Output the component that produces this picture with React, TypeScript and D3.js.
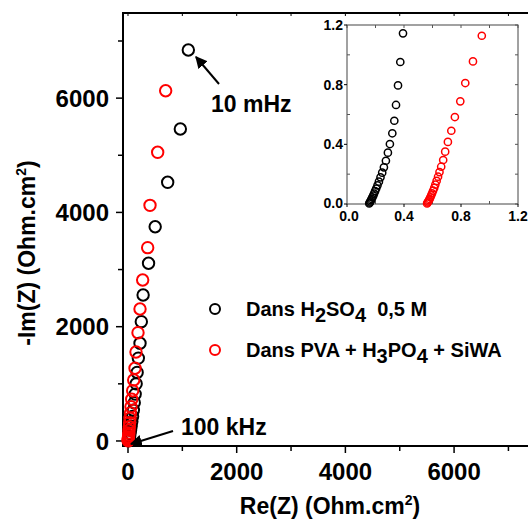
import React from "react";
import * as d3 from "d3";

// Main Nyquist data (Ohm.cm²)
const blackX = [1110, 963, 730, 500, 378, 278, 245, 221, 190, 168, 150, 132, 115, 99, 84, 70, 58, 47, 37, 29, 22, 16, 12];
const blackY = [6843, 5460, 4527, 3750, 3110, 2555, 2088, 1710, 1450, 1200, 1000, 820, 670, 540, 430, 340, 260, 190, 130, 80, 40, 15, 2];
const redX = [693, 546, 405, 362, 270, 221, 184, 147, 129, 105, 86, 68, 55, 45, 37, 30, 24, 19, 15, 12, 9, 7, 5, 4, 3];
const redY = [6130, 5052, 4124, 3383, 2817, 2310, 1895, 1557, 1272, 1067, 880, 730, 600, 490, 400, 320, 250, 190, 140, 100, 70, 45, 25, 10, 2];

// Inset data
const insetBlackX = [0.393, 0.374, 0.358, 0.344, 0.332, 0.318, 0.301, 0.287, 0.273, 0.259, 0.247, 0.235, 0.224, 0.214, 0.205, 0.197, 0.19, 0.184, 0.178, 0.173, 0.168, 0.164, 0.16, 0.156];
const insetBlackY = [1.144, 0.952, 0.795, 0.664, 0.558, 0.474, 0.402, 0.344, 0.29, 0.246, 0.21, 0.179, 0.15, 0.125, 0.104, 0.086, 0.07, 0.056, 0.044, 0.034, 0.025, 0.017, 0.01, 0.004];
const insetRedX = [0.946, 0.884, 0.83, 0.795, 0.757, 0.732, 0.708, 0.689, 0.675, 0.661, 0.649, 0.639, 0.629, 0.62, 0.612, 0.604, 0.597, 0.591, 0.585, 0.58, 0.575, 0.57, 0.566, 0.562];
const insetRedY = [1.128, 0.956, 0.811, 0.688, 0.583, 0.491, 0.416, 0.351, 0.295, 0.25, 0.214, 0.183, 0.155, 0.13, 0.108, 0.089, 0.072, 0.058, 0.045, 0.034, 0.025, 0.017, 0.01, 0.004];

const xTicks = [0, 2000, 4000, 6000];
const xMinor = [1000, 3000, 5000, 7000];
const yTicks = [0, 2000, 4000, 6000];
const yMinor = [1000, 3000, 5000, 7000];
const insetTicks = [0, 0.4, 0.8, 1.2];
const insetMinor = [0.2, 0.6, 1.0];

const FONT = "'Liberation Sans', Arial, sans-serif";

export default function App() {
  const x = d3.scaleLinear().domain([-92, 7500]).range([123, 535.6]);
  const y = d3.scaleLinear().domain([-88, 7490]).range([446, 13]);
  const ix = d3.scaleLinear().domain([0, 1.2]).range([347, 518]);
  const iy = d3.scaleLinear().domain([0, 1.2]).range([204, 25]);
  const fmt = d3.format(".1f");

  const blackPts = blackX.map((v, i) => [v, blackY[i]]);
  const redPts = redX.map((v, i) => [v, redY[i]]);
  const iBlack = insetBlackX.map((v, i) => [v, insetBlackY[i]]);
  const iRed = insetRedX.map((v, i) => [v, insetRedY[i]]);

  return (
    <svg width={528} height={519} style={{ position: "absolute", left: 0, top: 0, background: "#fff" }} fontFamily={FONT}>
      <defs>
        <marker id="arr" viewBox="0 0 10 10" refX="9" refY="5" markerWidth="6" markerHeight="6" orient="auto">
          <path d="M0,0 L10,5 L0,10 z" fill="#000" />
        </marker>
      </defs>
      <rect width={528} height={519} fill="#fff" />

      {/* main axes frame */}
      <line x1={123} x2={123} y1={y(7490)} y2={446} stroke="#000" strokeWidth={2} />
      <line x1={122} x2={540} y1={446} y2={446} stroke="#000" strokeWidth={2} />
      <line x1={122} x2={540} y1={y(7490)} y2={y(7490)} stroke="#000" strokeWidth={2} />

      {/* y ticks */}
      {yTicks.map((t) => (
        <g key={"yt" + t}>
          <line x1={116} x2={123} y1={y(t)} y2={y(t)} stroke="#000" strokeWidth={1.5} />
          <text x={109} y={y(t)} dy="0.36em" textAnchor="end" fontSize={24} fontWeight="bold">{t}</text>
        </g>
      ))}
      {yMinor.map((t) => (
        <line key={"ym" + t} x1={118} x2={123} y1={y(t)} y2={y(t)} stroke="#000" strokeWidth={1.5} />
      ))}
      {/* x ticks */}
      {xTicks.map((t) => (
        <g key={"xt" + t}>
          <line x1={x(t)} x2={x(t)} y1={446} y2={453} stroke="#000" strokeWidth={1.5} />
          <text x={x(t)} y={480} textAnchor="middle" fontSize={24} fontWeight="bold">{t}</text>
        </g>
      ))}
      {xMinor.map((t) => (
        <line key={"xm" + t} x1={x(t)} x2={x(t)} y1={446} y2={451} stroke="#000" strokeWidth={1.5} />
      ))}
      {/* top ticks inward */}
      {[...xTicks, ...xMinor].map((t) => (
        <line key={"tt" + t} x1={x(t)} x2={x(t)} y1={y(7490)} y2={y(7490) + 3} stroke="#000" strokeWidth={1} />
      ))}

      {/* axis titles */}
      <text x={330} y={514} textAnchor="middle" fontSize={23} fontWeight="bold">
        Re(Z) (Ohm.cm<tspan dy={-9} fontSize={14}>2</tspan><tspan dy={9}>)</tspan>
      </text>
      <text transform="translate(35,253) rotate(-90)" textAnchor="middle" fontSize={23} fontWeight="bold">
        -Im(Z) (Ohm.cm<tspan dy={-9} fontSize={14}>2</tspan><tspan dy={9}>)</tspan>
      </text>

      {/* main data */}
      {blackPts.map((p, i) => (
        <circle key={"b" + i} cx={x(p[0])} cy={y(p[1])} r={5.7} fill="none" stroke="#000" strokeWidth={2} />
      ))}
      {redPts.map((p, i) => (
        <circle key={"r" + i} cx={x(p[0])} cy={y(p[1])} r={5.7} fill="none" stroke="#ff0000" strokeWidth={2} />
      ))}

      {/* annotations */}
      <line x1={219} y1={84} x2={196} y2={57} stroke="#000" strokeWidth={2} markerEnd="url(#arr)" />
      <text x={211} y={112} fontSize={23} fontWeight="bold">10 mHz</text>
      <line x1={173} y1={431} x2={131} y2={444} stroke="#000" strokeWidth={2} markerEnd="url(#arr)" />
      <text x={181} y={435} fontSize={23} fontWeight="bold">100 kHz</text>

      {/* legend */}
      <circle cx={215} cy={309} r={5} fill="none" stroke="#000" strokeWidth={2} />
      <text x={246} y={316} fontSize={20} fontWeight="bold">
        Dans H<tspan dy={6}>2</tspan><tspan dy={-6}>SO</tspan><tspan dy={6}>4</tspan><tspan dy={-6}>{"\u00a0 0,5 M"}</tspan>
      </text>
      <circle cx={215} cy={350} r={5} fill="none" stroke="#ff0000" strokeWidth={2} />
      <text x={246} y={357} fontSize={20} fontWeight="bold">
        Dans PVA + H<tspan dy={6}>3</tspan><tspan dy={-6}>PO</tspan><tspan dy={6}>4</tspan><tspan dy={-6}> + SiWA</tspan>
      </text>

      {/* inset */}
      <rect x={347} y={25} width={171} height={179} fill="#fff" stroke="#444" strokeWidth={1} />
      {insetTicks.map((t) => (
        <g key={"it" + t}>
          <line x1={ix(t)} x2={ix(t)} y1={204} y2={207} stroke="#000" strokeWidth={1} />
          <line x1={344} x2={347} y1={iy(t)} y2={iy(t)} stroke="#000" strokeWidth={1} />
          <line x1={ix(t)} x2={ix(t)} y1={25} y2={28} stroke="#555" strokeWidth={1} />
          <line x1={515} x2={518} y1={iy(t)} y2={iy(t)} stroke="#555" strokeWidth={1} />
          <text x={ix(t) + (t === 0 ? 2 : 0)} y={221} textAnchor="middle" fontSize={14} fontWeight="bold">{fmt(t)}</text>
          <text x={343} y={iy(t) - (t === 0 ? 1 : 0)} dy="0.36em" textAnchor="end" fontSize={14} fontWeight="bold">{fmt(t)}</text>
        </g>
      ))}
      {insetMinor.map((t) => (
        <g key={"im" + t}>
          <line x1={ix(t)} x2={ix(t)} y1={204} y2={201} stroke="#555" strokeWidth={1} />
          <line x1={347} x2={350} y1={iy(t)} y2={iy(t)} stroke="#555" strokeWidth={1} />
          <line x1={ix(t)} x2={ix(t)} y1={25} y2={28} stroke="#555" strokeWidth={1} />
          <line x1={515} x2={518} y1={iy(t)} y2={iy(t)} stroke="#555" strokeWidth={1} />
        </g>
      ))}
      {iBlack.map((p, i) => (
        <circle key={"ib" + i} cx={ix(p[0])} cy={iy(p[1])} r={3.6} fill="none" stroke="#000" strokeWidth={1.5} />
      ))}
      {iRed.map((p, i) => (
        <circle key={"ir" + i} cx={ix(p[0])} cy={iy(p[1])} r={3.6} fill="none" stroke="#ff0000" strokeWidth={1.5} />
      ))}
    </svg>
  );
}
